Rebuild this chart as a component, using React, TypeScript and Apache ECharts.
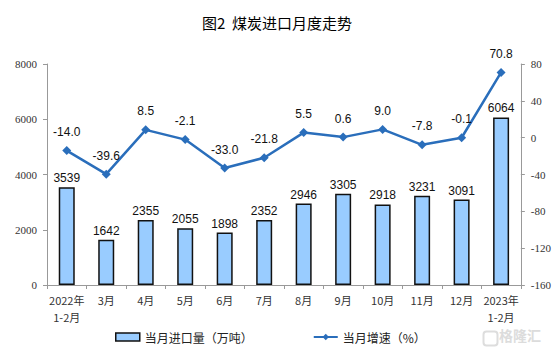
import React, { useEffect, useRef } from "react";
import * as echarts from "echarts";

const categories = ["2022年\n1-2月", "3月", "4月", "5月", "6月", "7月", "8月", "9月", "10月", "11月", "12月", "2023年\n1-2月"];
const importVolume = [3539, 1642, 2355, 2055, 1898, 2352, 2946, 3305, 2918, 3231, 3091, 6064];
const growthRate = [-14.0, -39.6, 8.5, -2.1, -33.0, -21.8, 5.5, 0.6, 9.0, -7.8, -0.1, 70.8];
const leftTicks = { min: 0, max: 8000, interval: 2000 };
const rightTicks = { min: -160, max: 80, interval: 40 };
const barName = "当月进口量（万吨）";
const lineName = "当月增速（%）";
const titleText = "图2  煤炭进口月度走势";

export default function App() {
  const ref = useRef<HTMLDivElement>(null);
  useEffect(() => {
    if (!ref.current) return;
    const chart = echarts.init(ref.current, null, { renderer: "svg" });
    const axisLabelFont = { fontFamily: "Liberation Serif", fontSize: 11, color: "#333" };
    chart.setOption({
      animation: false,
      backgroundColor: "#fff",
      title: {
        text: titleText,
        left: "center",
        top: 10,
        textStyle: { fontFamily: "Noto Sans CJK SC", fontSize: 15, fontWeight: "normal", color: "#000" },
      },
      grid: { left: 47, right: 32, top: 64, bottom: 68 },
      legend: {
        bottom: 5,
        left: 110,
        itemGap: 60,
        itemWidth: 24,
        itemHeight: 8,
        textStyle: { fontFamily: "Noto Sans CJK SC", fontSize: 12, color: "#222" },
        data: [
          { name: barName, icon: "rect", itemStyle: { color: "#99CCFF", borderColor: "#111", borderWidth: 1.5 } },
          { name: lineName },
        ],
      },
      xAxis: {
        type: "category",
        data: categories,
        axisLine: { lineStyle: { color: "#999" } },
        axisTick: { show: true, alignWithLabel: false, lineStyle: { color: "#999" }, length: 4 },
        axisLabel: { fontFamily: "Noto Sans CJK SC", fontSize: 11, color: "#333", interval: 0, lineHeight: 17, margin: 6 },
      },
      yAxis: [
        {
          type: "value",
          ...leftTicks,
          axisLine: { show: true, lineStyle: { color: "#999" } },
          axisTick: { show: true, inside: false, length: 4, lineStyle: { color: "#999" } },
          splitLine: { show: false },
          axisLabel: { ...axisLabelFont, margin: 10, formatter: (v: number) => String(v) },
        },
        {
          type: "value",
          ...rightTicks,
          position: "right",
          axisLine: { show: true, lineStyle: { color: "#999" } },
          axisTick: { show: true, inside: false, length: 4, lineStyle: { color: "#999" } },
          splitLine: { show: false },
          axisLabel: { ...axisLabelFont, margin: 10, formatter: (v: number) => String(v) },
        },
      ],
      series: [
        {
          name: barName,
          type: "bar",
          data: importVolume,
          barWidth: 16,
          itemStyle: { color: "#99CCFF", borderColor: "#111", borderWidth: 1.5 },
          label: {
            show: true,
            position: "top",
            distance: 3,
            fontFamily: "Liberation Sans",
            fontSize: 12,
            color: "#111",
          },
          z: 2,
        },
        {
          name: lineName,
          type: "line",
          yAxisIndex: 1,
          data: growthRate,
          symbol: "diamond",
          symbolSize: 9,
          lineStyle: { color: "#2A6EBB", width: 2.5 },
          itemStyle: { color: "#2A6EBB" },
          label: {
            show: true,
            position: "top",
            distance: 8,
            fontFamily: "Liberation Sans",
            fontSize: 12,
            color: "#111",
            formatter: (p: any) => Number(p.value).toFixed(1),
          },
          z: 3,
        },
      ],
      graphic: [
        {
          type: "rect",
          left: 481,
          top: 329,
          shape: { width: 14, height: 14, r: 3 },
          style: { fill: "none", stroke: "#ddd", lineWidth: 2 },
        },
        {
          type: "text",
          left: 499,
          top: 328,
          style: { text: "格隆汇", fill: "#dcdcdc", fontFamily: "Noto Sans CJK SC", fontSize: 14, fontWeight: "bold" },
        },
      ],
    });
    return () => chart.dispose();
  }, []);
  return <div ref={ref} style={{ width: 554, height: 353, position: "absolute", left: 0, top: 0 }} />;
}
